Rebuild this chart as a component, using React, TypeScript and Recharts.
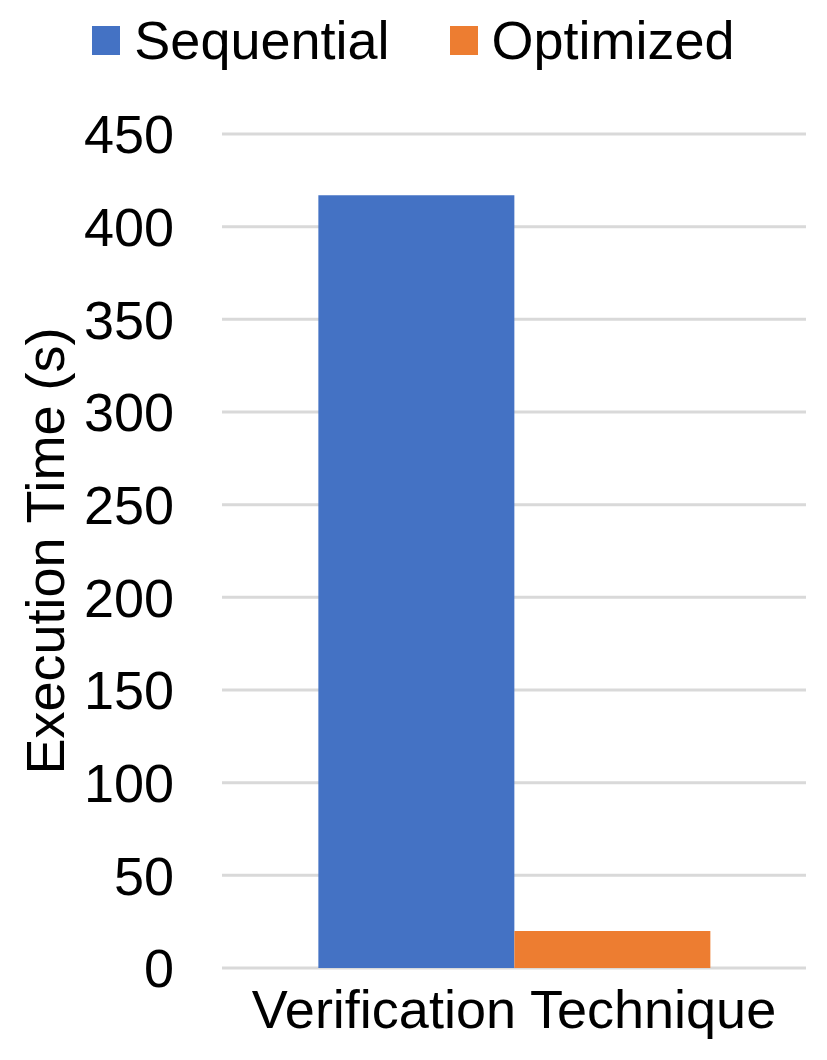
import { BarChart, Bar, XAxis, YAxis, CartesianGrid, Legend } from "recharts"

const categories = ["Verification Technique"]
const sequential = [417]
const optimized = [20]
const yTicks = [0, 50, 100, 150, 200, 250, 300, 350, 400, 450]

const seriesInfo = [
  { key: "sequential", name: "Sequential", color: "#4472C4" },
  { key: "optimized", name: "Optimized", color: "#ED7D31" },
]

const data = categories.map((c, i) => ({
  category: c,
  sequential: sequential[i],
  optimized: optimized[i],
}))

const FONT = "'Liberation Sans', Arial, sans-serif"

function LegendContent() {
  return (
    <div style={{ display: "flex", justifyContent: "center", alignItems: "center", fontFamily: FONT, fontSize: 54, lineHeight: "54px", color: "#000" }}>
      {seriesInfo.map((s, i) => (
        <div key={s.key} style={{ display: "flex", alignItems: "center", marginLeft: i === 0 ? 0 : 60 }}>
          <span style={{ width: 28, height: 29, background: s.color, display: "inline-block", marginRight: 14 }} />
          <span>{s.name}</span>
        </div>
      ))}
    </div>
  )
}

function YLabel(props: { viewBox?: { x: number; y: number; width: number; height: number } }) {
  const vb = props.viewBox
  if (!vb) return null
  const cy = vb.y + vb.height / 2
  return (
    <text
      transform={`translate(${vb.x + 64}, ${cy}) rotate(-90)`}
      textAnchor="middle"
      fontFamily={FONT}
      fontSize={54}
      fill="#000"
    >
      Execution Time (s)
    </text>
  )
}

export default function App() {
  return (
    <div style={{ position: "absolute", left: 0, top: 0, width: 827, height: 1060, background: "#fff" }}>
      <BarChart
        width={827}
        height={1060}
        data={data}
        margin={{ top: 134, right: 21, left: 0, bottom: 0 }}
        barCategoryGap="16.5%"
        barGap={0}
      >
        <CartesianGrid horizontal vertical={false} stroke="#D9D9D9" strokeWidth={3} />
        <XAxis
          dataKey="category"
          height={92}
          axisLine={false}
          tickLine={false}
          tickSize={0}
          tickMargin={22}
          tick={{ fontSize: 54, fill: "#000", fontFamily: FONT }}
        />
        <YAxis
          width={222}
          domain={[0, 450]}
          ticks={yTicks}
          interval={0}
          axisLine={false}
          tickLine={false}
          tickSize={0}
          tickMargin={48}
          tick={{ fontSize: 54, fill: "#000", fontFamily: FONT }}
          label={<YLabel />}
        />
        <Legend
          verticalAlign="middle"
          align="center"
          content={<LegendContent />}
          wrapperStyle={{ top: 13, left: 0, width: 827 }}
        />
        {seriesInfo.map((s) => (
          <Bar key={s.key} dataKey={s.key} name={s.name} fill={s.color} isAnimationActive={false} />
        ))}
      </BarChart>
    </div>
  )
}
